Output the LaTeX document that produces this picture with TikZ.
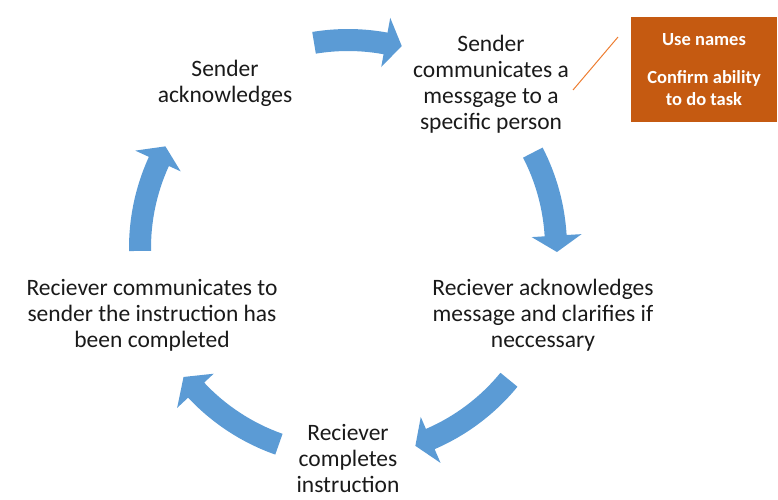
\documentclass[tikz,border=0pt]{standalone}
\usepackage{fontspec}
\setmainfont{Carlito}
\usetikzlibrary{calc}
\definecolor{arrowblue}{HTML}{5B9BD5}
\definecolor{notefill}{HTML}{C55A11}
\definecolor{noteline}{HTML}{ED7D31}
\definecolor{txt}{HTML}{1A1A1A}
\tikzset{
  stepnode/.style={align=center,text=txt,inner sep=0pt,font=\fontsize{23.5}{26}\selectfont},
  notebox/.style={fill=notefill,draw=none,minimum width=146pt,minimum height=105pt,inner sep=0pt,
    text=white,align=center,font=\bfseries\fontsize{18.5}{22}\selectfont},
  cyclink/.style={draw=noteline,line width=1pt}
}
\newcommand\cycarrow[3]{% start angle, tip angle, head angle
  \pgfmathsetmacro\ab{#2+#3}
  \fill[arrowblue] ($(C)+(#1:219pt)$) arc[start angle=#1,end angle=\ab,radius=219pt]
    -- ($(C)+(\ab:234pt)$) -- ($(C)+(#2:209pt)$) -- ($(C)+(\ab:184pt)$)
    -- ($(C)+(\ab:197pt)$) arc[start angle=\ab,end angle=#1,radius=197pt] -- cycle;
}
\begin{document}
\begin{tikzpicture}[x=1pt,y=1pt]
\useasboundingbox (0,0) rectangle (778,-499);
\coordinate (C) at (348,-248);
% arrows
\cycarrow{99.4}{75.1}{4.5}
\cycarrow{27.3}{-1.1}{4.5}
\cycarrow{-39.3}{-71.2}{4.5}
\cycarrow{-109.4}{-141.9}{5}
\cycarrow{180.8}{150.9}{4.5}
% steps
\node[stepnode] (s1) at (491,-84.5) {Sender\\communicates a\\messgage to a\\specific person};
\node[stepnode] (s2) at (543,-315) {Reciever acknowledges\\message and clarifies if\\neccessary};
\node[stepnode] (s3) at (348,-458) {Reciever\\completes\\instruction};
\node[stepnode] (s4) at (152,-315) {Reciever communicates to\\sender the instruction has\\been completed};
\node[stepnode] (s5) at (225,-83.5) {Sender\\acknowledges};
% note
\node[notebox] (note) at (704,-69.5) {Use names\\[16pt]Confirm ability\\to do task};
\coordinate (l1) at (573,-90);
\coordinate (l2) at (618,-37);
\draw[cyclink] (l1) -- (l2);
\end{tikzpicture}
\end{document}
